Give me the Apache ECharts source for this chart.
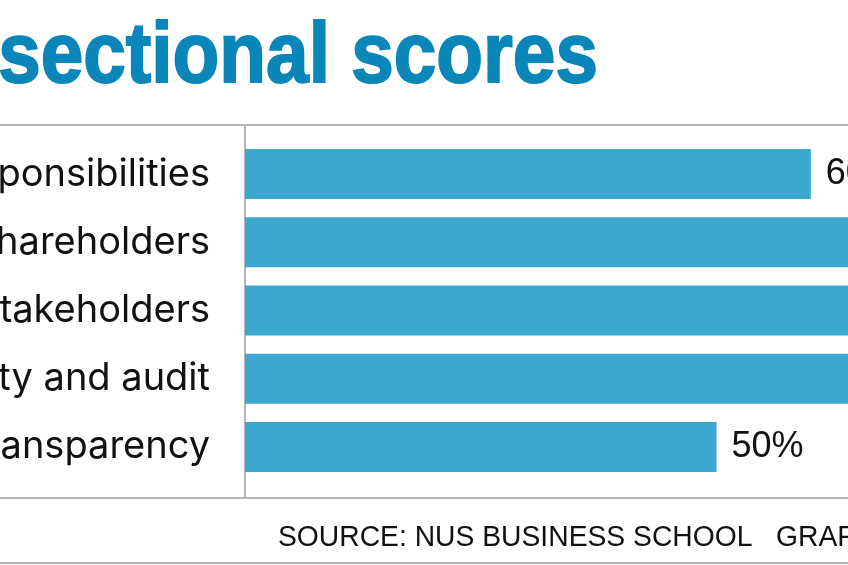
<!DOCTYPE html>
<html>
<head>
<meta charset="utf-8">
<script src="https://cdn.jsdelivr.net/npm/echarts@6/dist/echarts.min.js"></script>
<style>
  html, body { margin: 0; padding: 0; background: #fff; }
  #chart { width: 848px; height: 565px; }
</style>
</head>
<body>
<div id="chart"></div>
<script>
// sections, top to bottom
const sections = [
    'Board responsibilities',
    'Rights of shareholders',
    'Engagement of stakeholders',
    'Accountability and audit',
    'Disclosure and transparency'
]
// score in %, the long bars run off the picture so they are guesses
const scores = [60, 75, 72, 78, 50]

const titleText = 'Cross-sectional scores'
const sourceText = 'SOURCE: NUS BUSINESS SCHOOL   GRAPHICS'

var myChart = echarts.init(document.getElementById('chart'))
var option

const lineColor = '#b4b4b4'

option = {
    backgroundColor: '#fff',
    animation: false,
    // plot is wider than the window, the right side is cut off like in the print
    grid: {
        left: 245,
        right: -340,
        top: 140,
        bottom: 84,
        containLabel: false,
        outerBoundsMode: 'none'
    },
    xAxis: {
        type: 'value',
        min: 0,
        max: 100,
        show: false
    },
    yAxis: {
        type: 'category',
        inverse: true,
        data: sections,
        axisLine: { show: false },
        axisTick: { show: false },
        axisLabel: {
            margin: 35,
            color: '#111',
            fontSize: 38,
            fontFamily: 'Inter, "Noto Sans", sans-serif'
        }
    },
    series: [
        {
            type: 'bar',
            data: scores,
            barWidth: 50,
            itemStyle: { color: '#3ba8cf' },
            label: {
                show: true,
                position: 'right',
                distance: 15,
                formatter: '{c}%',
                color: '#111',
                fontSize: 36,
                fontFamily: '"Liberation Sans", Arial, sans-serif'
            }
        }
    ],
    graphic: [
        {
            type: 'text',
            x: 598,
            y: 58,
            scaleX: 0.89,
            style: {
                text: titleText,
                fill: '#0a86b9',
                stroke: '#0a86b9',
                lineWidth: 2,
                font: 'bold 86px "Liberation Sans", Arial, sans-serif',
                align: 'right',
                verticalAlign: 'middle'
            }
        },
        // frame lines
        { type: 'line', shape: { x1: 0, y1: 125, x2: 848, y2: 125 }, style: { stroke: lineColor, lineWidth: 2 } },
        { type: 'line', shape: { x1: 245, y1: 125, x2: 245, y2: 498 }, style: { stroke: lineColor, lineWidth: 2 } },
        { type: 'line', shape: { x1: 0, y1: 498, x2: 848, y2: 498 }, style: { stroke: lineColor, lineWidth: 2 } },
        { type: 'line', shape: { x1: 0, y1: 563, x2: 848, y2: 563 }, style: { stroke: lineColor, lineWidth: 2 } },
        {
            type: 'text',
            x: 278,
            y: 538,
            scaleX: 0.975,
            style: {
                text: sourceText,
                fill: '#111',
                font: '29px "Liberation Sans", Arial, sans-serif',
                verticalAlign: 'middle'
            }
        }
    ]
}

option && myChart.setOption(option)

window.addEventListener('resize', myChart.resize)
</script>
</body>
</html>
